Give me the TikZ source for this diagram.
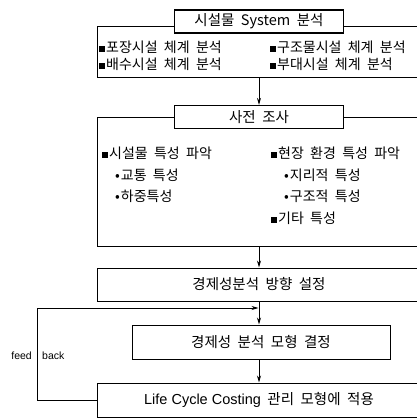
\documentclass[tikz,border=0pt]{standalone}
\usepackage{fontspec}
\setmainfont[WordSpace=2]{Noto Sans CJK KR}
\newfontfamily\latinsans{Liberation Sans}
\usetikzlibrary{arrows.meta}
\newcommand\sqb{\rule[0.5pt]{5.5pt}{5.5pt}\hspace{1.5pt}}
\newcommand\dotb{\hspace{13pt}•\hspace{1pt}}
\begin{document}
\begin{tikzpicture}[x=1pt,y=-1pt,
  box/.style={draw, line width=1pt, fill=white, inner sep=0pt, font=\fontsize{14.5}{14}\selectfont},
  title/.style={draw, line width=1.2pt, fill=white, minimum width=169pt, minimum height=23pt, inner sep=0pt, font=\fontsize{14.5}{14}\selectfont},
  item/.style={anchor=west, inner sep=0pt, font=\fontsize{14}{14}\selectfont},
  arr/.style={-{Stealth[length=7pt,width=4pt]}, line width=0.8pt},
  lbl/.style={inner sep=0pt, font=\latinsans\fontsize{10.5}{11}\selectfont}
]
\useasboundingbox (0,0) rectangle (416,419);

% box 1
\node[box, minimum width=324pt, minimum height=51pt] (sys) at (259,52.5) {};
\node[title] (systitle) at (259,21.5) {시설물 System 분석};
\node[item] (s1) at (99,47) {\sqb 포장시설 체계 분석};
\node[item] (s2) at (99,64) {\sqb 배수시설 체계 분석};
\node[item] (s3) at (270,47) {\sqb 구조물시설 체계 분석};
\node[item] (s4) at (270,64) {\sqb 부대시설 체계 분석};

% box 2
\node[box, minimum width=324pt, minimum height=128pt] (pre) at (259,182) {};
\node[title] (pretitle) at (259,117) {사전 조사};
\node[item] (p1) at (102,153) {\sqb 시설물 특성 파악};
\node[item] (p2) at (102,175) {\dotb 교통 특성};
\node[item] (p3) at (102,196) {\dotb 하중특성};
\node[item] (p4) at (271,153) {\sqb 현장 환경 특성 파악};
\node[item] (p5) at (271,175) {\dotb 지리적 특성};
\node[item] (p6) at (271,196) {\dotb 구조적 특성};
\node[item] (p7) at (271,218) {\sqb 기타 특성};

% box 3-5
\node[box, minimum width=324pt, minimum height=33pt] (dir) at (259,284.5) {경제성분석 방향 설정};
\node[box, minimum width=258pt, minimum height=34pt] (model) at (261,342) {경제성 분석 모형 결정};
\node[box, minimum width=324pt, minimum height=34pt] (lcc) at (259,400) {{\latinsans Life Cycle Costing} 관리 모형에 적용};

% arrows
\draw[arr] (sys.south) -- (pretitle.north);
\draw[arr] (pre.south) -- (dir.north);
\draw[arr] (dir.south) -- (dir.south |- model.north);
\draw[arr] (dir.south |- model.south) -- (dir.south |- lcc.north);

% feedback
\coordinate (fb1) at (37,400);
\coordinate (fb2) at (37,308);
\coordinate (fbend) at (258.5,308);
\draw[arr] (lcc.west) -- (fb1) -- (fb2) -- (fbend);
\node[lbl, anchor=east] (feed) at (32,356) {feed};
\node[lbl, anchor=west] (back) at (42,356) {back};
\end{tikzpicture}
\end{document}
